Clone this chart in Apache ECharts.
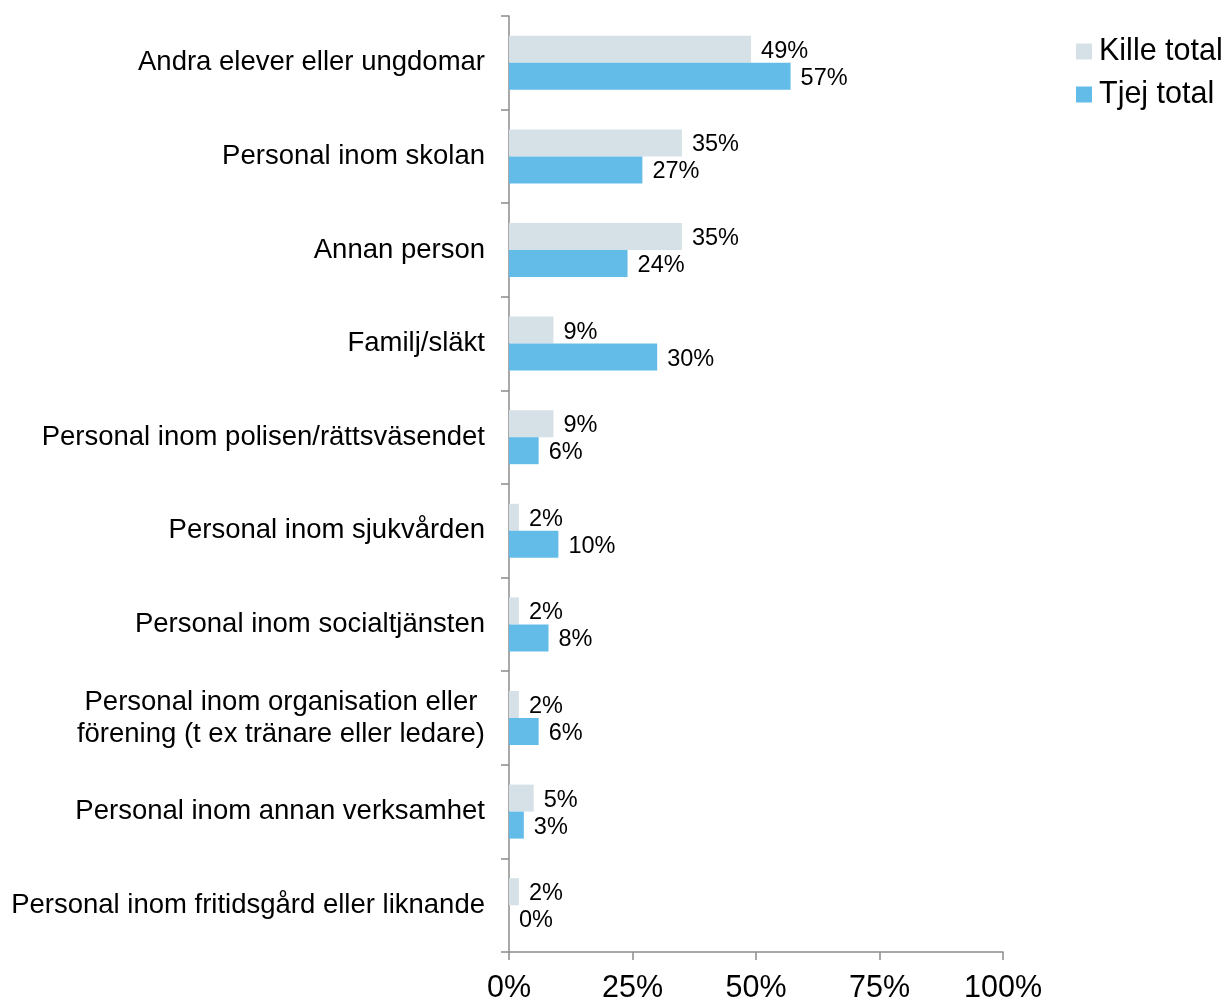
<!DOCTYPE html>
<html>
<head>
<meta charset="utf-8">
<script src="https://cdn.jsdelivr.net/npm/echarts@6/dist/echarts.min.js"></script>
<style>
  html, body { margin: 0; padding: 0; background: #ffffff; }
  #chart { width: 1225px; height: 1004px; }
</style>
</head>
<body>
<div id="chart"></div>
<script>
// Who the pupils turned to, share of answers per group
const categories = [
  'Andra elever eller ungdomar',
  'Personal inom skolan',
  'Annan person',
  'Familj/släkt',
  'Personal inom polisen/rättsväsendet',
  'Personal inom sjukvården',
  'Personal inom socialtjänsten',
  'Personal inom organisation eller \nförening (t ex tränare eller ledare)',
  'Personal inom annan verksamhet',
  'Personal inom fritidsgård eller liknande'
];
const killeTotal = [49, 35, 35, 9, 9, 2, 2, 2, 5, 2];
const tjejTotal = [57, 27, 24, 30, 6, 10, 8, 6, 3, 0];
const xTicks = [0, 25, 50, 75, 100];

const FONT = '"Liberation Sans", Arial, sans-serif';
const axisGray = '#8c8c8c';

const chart = echarts.init(document.getElementById('chart'), null, { renderer: 'canvas' });

const valueLabel = {
  show: true,
  position: 'right',
  distance: 10,
  offset: [0, 2],
  formatter: p => p.value + '%',
  color: '#000',
  fontSize: 23.5,
  fontFamily: FONT
};

chart.setOption({
  animation: false,
  backgroundColor: '#ffffff',
  grid: { left: 509, right: 222, top: 16, bottom: 49, containLabel: false },
  legend: {
    left: 1071,
    top: 31,
    orient: 'vertical',
    itemWidth: 16,
    itemHeight: 16,
    itemGap: 12,
    icon: 'rect',
    textStyle: { fontSize: 30.5, fontFamily: FONT, color: '#000', padding: [0, 0, 0, 2] },
    data: ['Kille total', 'Tjej total']
  },
  xAxis: {
    type: 'value',
    min: 0,
    max: 100,
    interval: 25,
    axisLine: { show: true, lineStyle: { color: axisGray, width: 1.5 } },
    axisTick: { show: true, length: 8, lineStyle: { color: axisGray, width: 1.5 } },
    splitLine: { show: false },
    axisLabel: {
      fontSize: 30.5,
      fontFamily: FONT,
      color: '#000',
      margin: 21,
      formatter: v => xTicks.includes(v) ? v + '%' : ''
    }
  },
  yAxis: {
    type: 'category',
    inverse: true,
    data: categories,
    axisLine: { show: true, lineStyle: { color: axisGray, width: 1.5 } },
    axisTick: { show: true, length: 8, alignWithLabel: false, lineStyle: { color: axisGray, width: 1.5 } },
    axisLabel: {
      fontSize: 27.5,
      fontFamily: FONT,
      color: '#000',
      margin: 24,
      lineHeight: 32,
      align: 'right'
    }
  },
  series: [
    {
      name: 'Kille total',
      type: 'bar',
      data: killeTotal,
      barWidth: 27,
      barGap: '0%',
      barCategoryGap: '42%',
      itemStyle: { color: '#d5e1e7' },
      label: valueLabel
    },
    {
      name: 'Tjej total',
      type: 'bar',
      data: tjejTotal,
      barWidth: 27,
      barGap: '0%',
      itemStyle: { color: '#63bce8' },
      label: valueLabel
    }
  ]
});
</script>
</body>
</html>
